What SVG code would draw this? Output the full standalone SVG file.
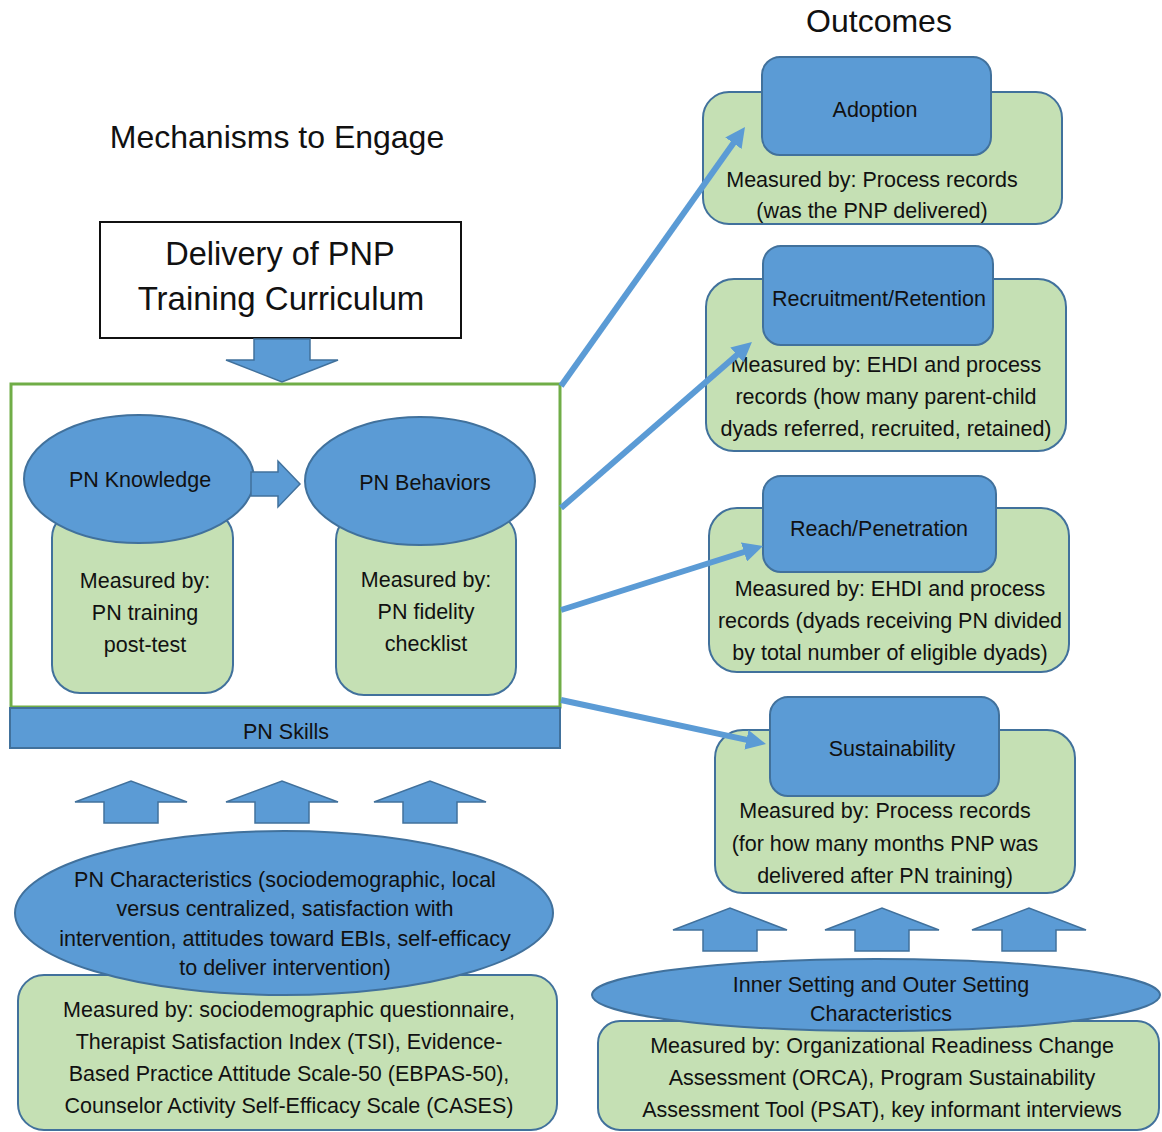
<svg xmlns="http://www.w3.org/2000/svg" width="1162" height="1132" viewBox="0 0 1162 1132">
<defs>
<style>
.t{font-family:"Liberation Sans",Arial,sans-serif;fill:#111;text-anchor:middle}
.s19{font-size:21.5px}
.blue{fill:#5b9bd5;stroke:#41719c;stroke-width:2}
.green{fill:#c5e0b4;stroke:#41719c;stroke-width:2}
.blk{fill:#5b9bd5;stroke:#41719c;stroke-width:1.5}
.conn{stroke:#5b9bd5;stroke-width:6;fill:none;marker-end:url(#ah)}
</style>
<marker id="ah" viewBox="0 0 20 20" markerWidth="20" markerHeight="20" refX="10" refY="10" orient="auto" markerUnits="userSpaceOnUse">
<path d="M0,0 L20,10 L0,20 z" fill="#5b9bd5"/>
</marker>
</defs>
<rect width="1162" height="1132" fill="#fff"/>

<g id="titles">
<text class="t" x="879" y="32" font-size="32">Outcomes</text>
<text class="t" x="277" y="148" font-size="32">Mechanisms to Engage</text>
</g>

<g id="delivery">
<rect x="100" y="222" width="361" height="116" fill="#fff" stroke="#111" stroke-width="2"/>
<text class="t" x="280" y="265" font-size="32.5">Delivery of PNP</text>
<text class="t" x="281" y="310" font-size="33">Training Curriculum</text>
</g>

<g id="mechanisms-frame">
<rect x="11" y="384" width="549" height="323" fill="#fff" stroke="#70ad47" stroke-width="3"/>
</g>

<g id="pn-skills">
<rect x="10" y="708" width="550" height="40" class="blue"/>
<text class="t s19" x="286" y="739">PN Skills</text>
</g>

<g id="pn-knowledge">
<rect x="52" y="510" width="181" height="183" rx="28" class="green"/>
<ellipse cx="139" cy="479" rx="115" ry="64" class="blue"/>
<text class="t s19" x="140" y="487">PN Knowledge</text>
<text class="t s19" x="145" y="588">Measured by:</text>
<text class="t s19" x="145" y="620">PN training</text>
<text class="t s19" x="145" y="652">post-test</text>
</g>

<g id="pn-behaviors">
<rect x="336" y="512" width="180" height="183" rx="28" class="green"/>
<ellipse cx="420" cy="481" rx="115" ry="64" class="blue"/>
<text class="t s19" x="425" y="490">PN Behaviors</text>
<text class="t s19" x="426" y="587">Measured by:</text>
<text class="t s19" x="426" y="619">PN fidelity</text>
<text class="t s19" x="426" y="651">checklist</text>
</g>

<g id="pn-characteristics">
<rect x="18" y="975" width="539" height="155" rx="26" class="green"/>
<ellipse cx="284" cy="913" rx="269" ry="82" class="blue"/>
<text class="t s19" x="285" y="887">PN Characteristics (sociodemographic, local</text>
<text class="t s19" x="285" y="916">versus centralized, satisfaction with</text>
<text class="t s19" x="285" y="946">intervention, attitudes toward EBIs, self-efficacy</text>
<text class="t s19" x="285" y="975">to deliver intervention)</text>
<text class="t s19" x="289" y="1017">Measured by: sociodemographic questionnaire,</text>
<text class="t s19" x="289" y="1049">Therapist Satisfaction Index (TSI), Evidence-</text>
<text class="t s19" x="289" y="1081">Based Practice Attitude Scale-50 (EBPAS-50),</text>
<text class="t s19" x="289" y="1113">Counselor Activity Self-Efficacy Scale (CASES)</text>
</g>

<g id="adoption">
<rect x="703" y="92" width="359" height="132" rx="26" class="green"/>
<rect x="762" y="57" width="229" height="98" rx="18" class="blue"/>
<text class="t s19" x="875" y="117">Adoption</text>
<text class="t s19" x="872" y="187">Measured by: Process records</text>
<text class="t s19" x="872" y="218">(was the PNP delivered)</text>
</g>

<g id="recruitment">
<rect x="706" y="279" width="360" height="172" rx="28" class="green"/>
<rect x="763" y="246" width="230" height="99" rx="18" class="blue"/>
<text class="t s19" x="879" y="306">Recruitment/Retention</text>
<text class="t s19" x="886" y="372">Measured by: EHDI and process</text>
<text class="t s19" x="886" y="404">records (how many parent-child</text>
<text class="t s19" x="886" y="436">dyads referred, recruited, retained)</text>
</g>

<g id="reach">
<rect x="709" y="508" width="360" height="164" rx="28" class="green"/>
<rect x="763" y="476" width="233" height="96" rx="18" class="blue"/>
<text class="t s19" x="879" y="536">Reach/Penetration</text>
<text class="t s19" x="890" y="596">Measured by: EHDI and process</text>
<text class="t s19" x="890" y="628">records (dyads receiving PN divided</text>
<text class="t s19" x="890" y="660">by total number of eligible dyads)</text>
</g>

<g id="sustainability">
<rect x="715" y="730" width="360" height="163" rx="28" class="green"/>
<rect x="770" y="697" width="229" height="99" rx="18" class="blue"/>
<text class="t s19" x="892" y="756">Sustainability</text>
<text class="t s19" x="885" y="818">Measured by: Process records</text>
<text class="t s19" x="885" y="851">(for how many months PNP was</text>
<text class="t s19" x="885" y="883">delivered after PN training)</text>
</g>

<g id="setting-characteristics">
<rect x="598" y="1021" width="561" height="109" rx="22" class="green"/>
<ellipse cx="876" cy="995" rx="284" ry="36" class="blue"/>
<text class="t s19" x="881" y="992">Inner Setting and Outer Setting</text>
<text class="t s19" x="881" y="1021">Characteristics</text>
<text class="t s19" x="882" y="1053">Measured by: Organizational Readiness Change</text>
<text class="t s19" x="882" y="1085">Assessment (ORCA), Program Sustainability</text>
<text class="t s19" x="882" y="1117">Assessment Tool (PSAT), key informant interviews</text>
</g>

<g id="connectors">
<polygon class="blk" points="254,339 310,339 310,360 338,360 282,382 226,360 254,360"/>
<polygon class="blk" points="251,472 278,472 278,461 300,484 278,507 278,496 251,496"/>
<polygon class="blk" points="104,823 158,823 158,802 187,802 131,781 75,802 104,802"/>
<polygon class="blk" points="255,823 309,823 309,802 338,802 282,781 226,802 255,802"/>
<polygon class="blk" points="403,823 457,823 457,802 486,802 430,781 374,802 403,802"/>
<polygon class="blk" points="703,951 757,951 757,930 787,930 730,908 673,930 703,930"/>
<polygon class="blk" points="855,951 909,951 909,930 939,930 882,908 825,930 855,930"/>
<polygon class="blk" points="1002,951 1056,951 1056,930 1086,930 1029,908 972,930 1002,930"/>
<line class="conn" x1="561" y1="386" x2="739.2" y2="135.1"/>
<line class="conn" x1="561" y1="508" x2="744.4" y2="348.5"/>
<line class="conn" x1="561" y1="610" x2="753.5" y2="549"/>
<line class="conn" x1="561" y1="700" x2="756.2" y2="741.9"/>
</g>
</svg>
